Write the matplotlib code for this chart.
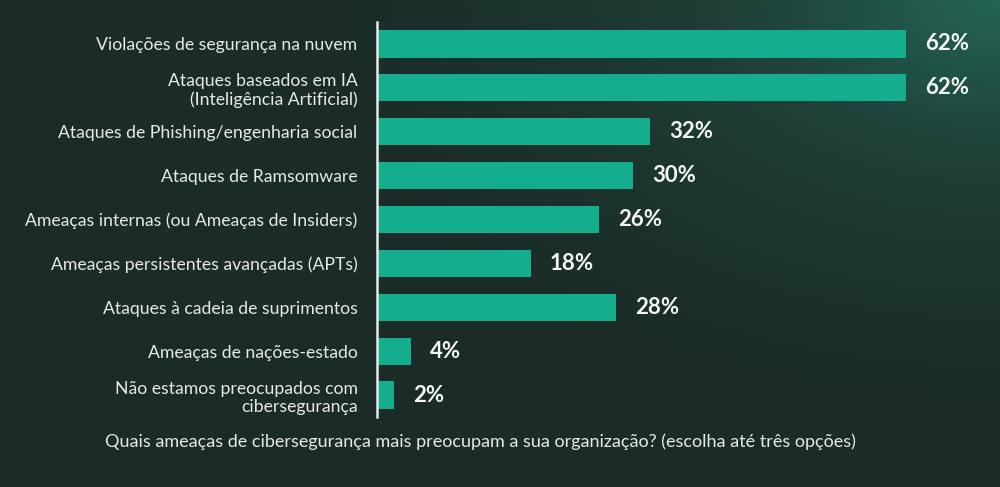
import numpy as np
import matplotlib
matplotlib.use("Agg")
import matplotlib.pyplot as plt
from matplotlib.colors import LinearSegmentedColormap

categories = [
    "Violações de segurança na nuvem",
    "Ataques baseados em IA\n(Inteligência Artificial)",
    "Ataques de Phishing/engenharia social",
    "Ataques de Ramsomware",
    "Ameaças internas (ou Ameaças de Insiders)",
    "Ameaças persistentes avançadas (APTs)",
    "Ataques à cadeia de suprimentos",
    "Ameaças de nações-estado",
    "Não estamos preocupados com\ncibersegurança",
]
values = [62, 62, 32, 30, 26, 18, 28, 4, 2]
value_labels = ["62%", "62%", "32%", "30%", "26%", "18%", "28%", "4%", "2%"]
caption = "Quais ameaças de cibersegurança mais preocupam a sua organização? (escolha até três opções)"

W, H = 1000, 487
fig = plt.figure(figsize=(W / 100, H / 100), dpi=100)

# background gradient
bg = fig.add_axes([0, 0, 1, 1])
yy, xx = np.mgrid[0:H, 0:W]
d = np.sqrt(((xx - 1000) / 750.0) ** 2 + ((yy - 0) / 450.0) ** 2)
t = np.clip(1 - d, 0, 1) ** 1.5
cmap = LinearSegmentedColormap.from_list("bg", ["#1b2b27", "#1f3f37", "#236555"])
bg.imshow(t, cmap=cmap, aspect="auto", extent=[0, W, H, 0], vmin=0, vmax=1)
bg.axis("off")

font = "Lato"
ax = fig.add_axes([377 / W, 1 - 417 / H, (1000 - 377) / W, (417 - 22) / H])
ax.patch.set_alpha(0)
y = np.arange(len(categories))
ax.barh(y, values, height=0.62, color="#14ad8d", left=0)
ax.set_xlim(0, (1000 - 377) / 8.53)
ax.set_ylim(len(categories) - 0.5, -0.5)
for s in ["top", "right", "bottom"]:
    ax.spines[s].set_visible(False)
ax.spines["left"].set_color("#e6e9e7")
ax.spines["left"].set_linewidth(1.8)
ax.set_xticks([])
ax.set_yticks(y)
ax.set_yticklabels(categories, fontsize=12.7, color="#e6e9e7", family=font, linespacing=1.2)
ax.tick_params(axis="y", length=0, pad=14)
for lbl in ax.get_yticklabels():
    lbl.set_horizontalalignment("right")
    lbl.set_multialignment("right")

for yi, v, lab in zip(y, values, value_labels):
    ax.annotate(lab, (v, yi), xytext=(19, 0), textcoords="offset pixels",
                va="center", ha="left", fontsize=16, fontweight="bold", color="#f4f6f5", family=font)

fig.text(480 / W, 1 - 442 / H, caption, ha="center", va="center", fontsize=13,
         color="#e6e9e7", family=font)

fig.savefig("out.png", dpi=100)
